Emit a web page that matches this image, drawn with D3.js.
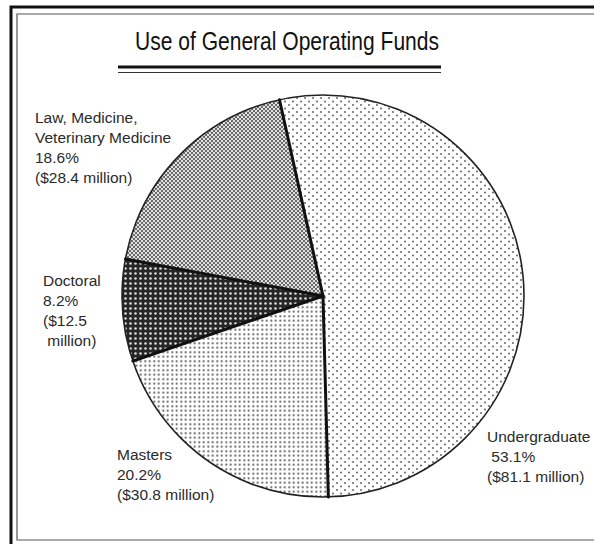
<!DOCTYPE html>
<html>
<head>
    <meta charset="utf-8">
    <title>Use of General Operating Funds</title>
    <script src="https://cdn.jsdelivr.net/npm/d3@7"></script>
    <style>
        body { margin: 0; background: #fff; }
        text { font-family: "Liberation Sans", Arial, sans-serif; }
    </style>
</head>
<body>
<svg id="chart" width="594" height="544"></svg>
<script>
    // data
    let categories = ["Undergraduate", "Masters", "Doctoral", "Law, Medicine, Veterinary Medicine"]
    let percents = [53.1, 20.2, 8.2, 18.6]
    let millions = [81.1, 30.8, 12.5, 28.4]

    let svg = d3.select("#chart")
    let cx = 323, cy = 296, radius = 201

    // fill patterns for each slice (scanned halftone look)
    let defs = svg.append("defs")

    let p1 = defs.append("pattern").attr("id", "pat0").attr("patternUnits", "userSpaceOnUse")
        .attr("width", 8).attr("height", 7)
    p1.append("rect").attr("width", 8).attr("height", 7).attr("fill", "#fff")
    p1.append("circle").attr("cx", 2).attr("cy", 1.5).attr("r", 0.9).attr("fill", "#555")
    p1.append("circle").attr("cx", 6).attr("cy", 5).attr("r", 0.9).attr("fill", "#555")

    let p2 = defs.append("pattern").attr("id", "pat1").attr("patternUnits", "userSpaceOnUse")
        .attr("width", 4.5).attr("height", 4.5)
    p2.append("rect").attr("width", 4.5).attr("height", 4.5).attr("fill", "#fff")
    p2.append("circle").attr("cx", 2.25).attr("cy", 2.25).attr("r", 1.05).attr("fill", "#555")

    let p3 = defs.append("pattern").attr("id", "pat2").attr("patternUnits", "userSpaceOnUse")
        .attr("width", 5).attr("height", 5)
    p3.append("rect").attr("width", 5).attr("height", 5).attr("fill", "#262626")
    p3.append("circle").attr("cx", 2.5).attr("cy", 2.5).attr("r", 1.3).attr("fill", "#ddd")

    let p4 = defs.append("pattern").attr("id", "pat3").attr("patternUnits", "userSpaceOnUse")
        .attr("width", 4).attr("height", 4)
    p4.append("rect").attr("width", 4).attr("height", 4).attr("fill", "#e0e0e0")
    p4.append("rect").attr("width", 2).attr("height", 2).attr("fill", "#6a6a6a")
    p4.append("rect").attr("x", 2).attr("y", 2).attr("width", 2).attr("height", 2).attr("fill", "#6a6a6a")

    // frame around the figure
    let frame = svg.append("g").attr("fill", "none")
    frame.append("path").attr("d", "M11,544 V7 H594").attr("stroke", "#111").attr("stroke-width", 3)
    frame.append("path").attr("d", "M594,14 H17 V540 H594").attr("stroke", "#555").attr("stroke-width", 1.2)

    // title with double rule underneath
    svg.append("text")
        .attr("x", 135).attr("y", 50)
        .attr("font-size", 26)
        .attr("textLength", 304).attr("lengthAdjust", "spacingAndGlyphs")
        .attr("fill", "#111")
        .text("Use of General Operating Funds")
    svg.append("line").attr("x1", 118).attr("x2", 441).attr("y1", 67).attr("y2", 67)
        .attr("stroke", "#111").attr("stroke-width", 3)
    svg.append("line").attr("x1", 118).attr("x2", 441).attr("y1", 72.5).attr("y2", 72.5)
        .attr("stroke", "#333").attr("stroke-width", 1.2)

    // pie
    let pie = d3.pie().sort(null).value(d => d)
        .startAngle(-12.5 * Math.PI / 180)
        .endAngle((360 - 12.5) * Math.PI / 180)
    let arcs = pie(percents)
    let arc = d3.arc().innerRadius(0).outerRadius(radius)

    let g = svg.append("g").attr("transform", `translate(${cx},${cy})`)

    g.selectAll("path.slice")
        .data(arcs)
        .enter()
        .append("path")
        .attr("class", "slice")
        .attr("d", arc)
        .attr("fill", (d, i) => `url(#pat${i})`)

    // outer rim
    g.append("circle").attr("r", radius).attr("fill", "none")
        .attr("stroke", "#222").attr("stroke-width", 1.6)

    // heavy radial dividers between slices
    g.selectAll("line.divider")
        .data(arcs)
        .enter()
        .append("line")
        .attr("class", "divider")
        .attr("x1", 0).attr("y1", 0)
        .attr("x2", d => radius * Math.sin(d.startAngle))
        .attr("y2", d => -radius * Math.cos(d.startAngle))
        .attr("stroke", "#111").attr("stroke-width", 3)
        .attr("stroke-linecap", "round")

    // labels
    let fmtPct = d3.format(".1f")
    let labelLines = [
        [categories[0], " " + fmtPct(percents[0]) + "%", "($" + fmtPct(millions[0]) + " million)"],
        [categories[1], fmtPct(percents[1]) + "%", "($" + fmtPct(millions[1]) + " million)"],
        [categories[2], fmtPct(percents[2]) + "%", "($" + fmtPct(millions[2]), " million)"],
        ["Law, Medicine,", "Veterinary Medicine", fmtPct(percents[3]) + "%", "($" + fmtPct(millions[3]) + " million)"]
    ]
    let labelPos = [
        {x: 487, y: 442},
        {x: 117, y: 460},
        {x: 43, y: 286},
        {x: 35, y: 123}
    ]
    let lineGap = 20

    svg.selectAll("text.label")
        .data(labelLines)
        .enter()
        .append("text")
        .attr("class", "label")
        .attr("font-size", 15.5)
        .attr("fill", "#2a2a2a")
        .attr("x", (d, i) => labelPos[i].x)
        .attr("y", (d, i) => labelPos[i].y)
        .each(function (lines, i) {
            d3.select(this).selectAll("tspan")
                .data(lines)
                .enter()
                .append("tspan")
                .attr("x", labelPos[i].x)
                .attr("y", (l, j) => labelPos[i].y + j * lineGap)
                .attr("xml:space", "preserve")
                .style("white-space", "pre")
                .text(l => l)
        })
</script>
</body>
</html>
